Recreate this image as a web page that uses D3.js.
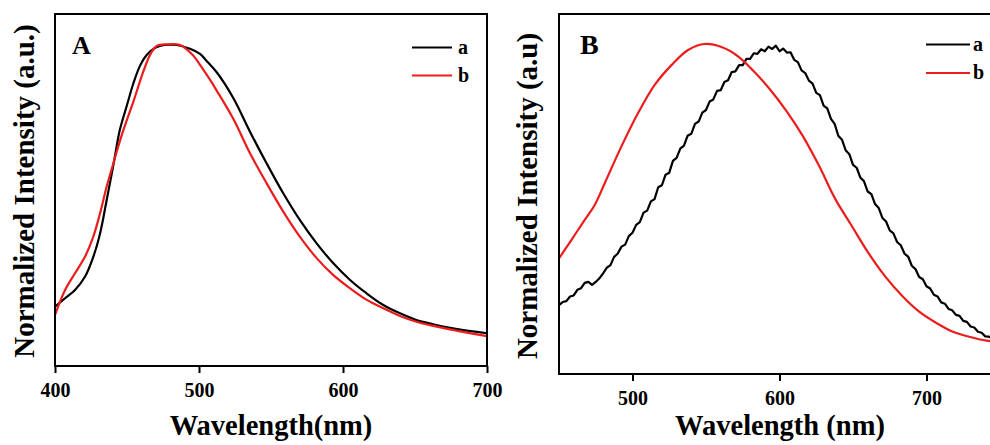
<!DOCTYPE html>
<html><head><meta charset="utf-8">
<script src="https://cdn.jsdelivr.net/npm/d3@7"></script>
<style>html,body{margin:0;padding:0;background:#fff;}svg{display:block;}</style>
</head><body>
<svg id="chart" width="990" height="445"></svg>
<script>
// Panel A (normalized intensity)
const wlA_a = [400,407,413.9,420.8,426.6,431.3,435.9,440.5,445,449.8,454.4,459,463.7,470,476,484.5,493.75,500.7,505,512.3,523.8,535.4,547,558.5,570,581.7,593.3,604.9,616.5,628,639.6,651,662.7,674.3,686,700];
const intA_a = [0.185,0.211,0.237,0.278,0.34,0.413,0.517,0.625,0.735,0.81,0.88,0.935,0.969,0.992,1.0,1.0,0.988,0.972,0.952,0.915,0.835,0.73,0.631,0.538,0.455,0.382,0.32,0.268,0.226,0.19,0.164,0.143,0.13,0.119,0.11,0.102];
const wlA_b = [400,407,413.9,420.8,426.6,431.3,435.9,440.5,445,449.8,454.4,461.3,466,470.6,478,486.8,495.8,500.7,507.6,512.3,523.8,535.4,547,558.5,570,581.7,593.3,604.9,616.5,628,639.6,651,662.7,674.3,686,700];
const intA_b = [0.159,0.237,0.289,0.34,0.403,0.476,0.559,0.631,0.70,0.765,0.823,0.917,0.969,0.997,1.002,1.0,0.968,0.938,0.892,0.858,0.77,0.663,0.569,0.481,0.403,0.336,0.283,0.242,0.206,0.18,0.156,0.138,0.125,0.114,0.104,0.093];
// Panel B
const wlB_b = [450,458.4,467.5,474.3,481.1,492.4,503.7,515.1,526.5,537.8,549.1,561,572,583,594,605,616,627,638,649,660,672,684,695,707,718,729,741,750];
const intB_b = [0.35,0.406,0.467,0.512,0.578,0.689,0.79,0.876,0.936,0.982,1.0,0.99,0.962,0.915,0.86,0.795,0.72,0.63,0.53,0.45,0.37,0.295,0.234,0.189,0.154,0.128,0.113,0.101,0.097];
const wlB_a = [450,452.5,455,457.5,460,462.5,465,467.5,470,472.5,475,477.5,480,482.5,485,487.5,490,492.5,495,497.5,500,502.5,505,507.5,510,512.5,515,517.5,520,522.5,525,527.5,530,532.5,535,537.5,540,542.5,545,547.5,550,552.5,555,557.5,560,562.5,565,567.5,570,572.5,575,577.5,580,582.5,585,587.5,590,592.5,595,597.5,600,602.5,605,607.5,610,612.5,615,617.5,620,622.5,625,627.5,630,632.5,635,637.5,640,642.5,645,647.5,650,652.5,655,657.5,660,662.5,665,667.5,670,672.5,675,677.5,680,682.5,685,687.5,690,692.5,695,697.5,700,702.5,705,707.5,710,712.5,715,717.5,720,722.5,725,727.5,730,732.5,735,737.5,740,742.5,745,747.5,750];
const intB_a = [0.209,0.218,0.221,0.235,0.238,0.255,0.26,0.276,0.279,0.270,0.279,0.29,0.305,0.322,0.33,0.355,0.365,0.386,0.392,0.418,0.428,0.452,0.46,0.489,0.495,0.523,0.53,0.566,0.572,0.604,0.61,0.646,0.655,0.683,0.692,0.722,0.728,0.758,0.765,0.792,0.8,0.826,0.832,0.858,0.86,0.885,0.89,0.915,0.917,0.936,0.936,0.955,0.955,0.972,0.97,0.984,0.978,0.992,0.985,0.995,0.978,0.986,0.974,0.975,0.952,0.945,0.92,0.912,0.889,0.88,0.852,0.845,0.813,0.805,0.773,0.758,0.722,0.71,0.678,0.666,0.634,0.625,0.595,0.584,0.553,0.545,0.515,0.503,0.473,0.462,0.435,0.426,0.4,0.39,0.365,0.356,0.328,0.318,0.294,0.287,0.266,0.259,0.24,0.235,0.217,0.213,0.197,0.193,0.179,0.176,0.161,0.158,0.144,0.141,0.128,0.125,0.114,0.113,0.107,0.106,0.1];
const ticksA = [400,500,600,700];
const ticksB = [500,600,700];
const seriesNames = ["a","b"];
const colors = ["#000000","#ec1c1c"];

const FONT = '"Liberation Serif","Times New Roman",serif';
const svg = d3.select("#chart");
svg.append("rect").attr("width",990).attr("height",445).attr("fill","#fff");

function txt(g, s, size){
  return g.append("text").style("font-family",FONT).style("font-weight","bold").style("font-size",size+"px").attr("fill","#000").text(s);
}

function panel(cfg){
  const g = svg.append("g");
  const x = d3.scaleLinear().domain(cfg.xdom).range([cfg.left,cfg.right]);
  const y = d3.scaleLinear().domain([0,1]).range([cfg.bottom,cfg.peak]);
  g.append("defs").append("clipPath").attr("id","clip"+cfg.id)
    .append("rect").attr("x",cfg.left).attr("y",cfg.top).attr("width",cfg.right-cfg.left).attr("height",cfg.bottom-cfg.top);
  cfg.series.forEach((s,i)=>{
    const line = d3.line().x(d=>x(d[0])).y(d=>y(d[1])).curve(s[2]);
    g.append("path").datum(d3.zip(s[0],s[1]))
      .attr("clip-path","url(#clip"+cfg.id+")")
      .attr("fill","none").attr("stroke",colors[i]).attr("stroke-width",2.2)
      .attr("stroke-linejoin","round").attr("d",line);
  });
  g.append("rect").attr("x",cfg.left).attr("y",cfg.top).attr("width",cfg.right-cfg.left).attr("height",cfg.bottom-cfg.top)
    .attr("fill","none").attr("stroke","#000").attr("stroke-width",2);
  const ax = d3.axisBottom(x).tickValues(cfg.ticks).tickSize(7).tickPadding(10).tickFormat(d3.format("d"));
  const axg = g.append("g").attr("transform",`translate(0,${cfg.bottom})`).call(ax);
  axg.select(".domain").remove();
  axg.selectAll("line").attr("stroke","#000").attr("stroke-width",2);
  axg.selectAll("text").style("font-family",FONT).style("font-weight","bold").style("font-size","20px").attr("fill","#000");
  txt(g, cfg.xtitle, 28.5).attr("x",cfg.xtx).attr("y",435).attr("text-anchor","middle");
  txt(g, cfg.ytitle, 29).attr("transform",`translate(${cfg.ytx},${cfg.yty}) rotate(-90)`).attr("text-anchor","middle");
  txt(g, cfg.id, cfg.idSize).attr("x",cfg.idX).attr("y",53.5);
  seriesNames.forEach((n,i)=>{
    const ly = cfg.legY[i];
    g.append("line").attr("x1",cfg.legX).attr("x2",cfg.legX+cfg.legW).attr("y1",ly).attr("y2",ly)
      .attr("stroke",colors[i]).attr("stroke-width",2.2);
    txt(g, n, 20).attr("x",cfg.legX+cfg.legW+cfg.legGap).attr("y",ly+6);
  });
}

panel({id:"A",xdom:[400,700],left:55,right:487,top:14,bottom:366,peak:45,ticks:ticksA,
  series:[[wlA_a,intA_a,d3.curveCatmullRom],[wlA_b,intA_b,d3.curveCatmullRom]],
  xtitle:"Wavelength(nm)",xtx:271,ytitle:"Normalized Intensity (a.u.)",ytx:34,yty:191,
  idX:72,idSize:26,legX:412,legW:40,legGap:6,legY:[47.5,75.5]});
panel({id:"B",xdom:[450,750],left:559,right:1000,top:14,bottom:374,peak:44,ticks:ticksB,
  series:[[wlB_a,intB_a,d3.curveLinear],[wlB_b,intB_b,d3.curveCatmullRom]],
  xtitle:"Wavelength (nm)",xtx:780,ytitle:"Normalized Intensity (a.u)",ytx:537,yty:196,
  idX:580,idSize:28,legX:926,legW:44,legGap:3,legY:[44.5,73]});
</script>
</body></html>
